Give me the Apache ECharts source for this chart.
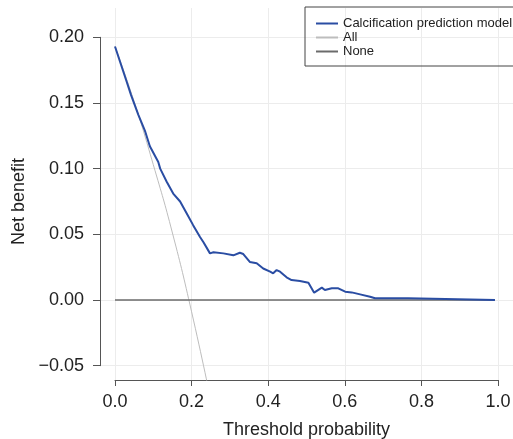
<!DOCTYPE html>
<html>
<head>
<meta charset="utf-8">
<script src="https://cdn.jsdelivr.net/npm/echarts@6/dist/echarts.min.js"></script>
<style>
html, body { margin: 0; padding: 0; background: #fff; }
#chart { width: 513px; height: 439px; }
</style>
</head>
<body>
<div id="chart"></div>
<script>
// decision curve values
var modelThreshold = [0, 0.029, 0.042, 0.061, 0.078, 0.091, 0.113, 0.118, 0.135, 0.152,
    0.170, 0.187, 0.204, 0.222, 0.231, 0.248, 0.257, 0.283, 0.309, 0.326,
    0.335, 0.352, 0.370, 0.387, 0.405, 0.413, 0.422, 0.431, 0.448, 0.461,
    0.483, 0.505, 0.520, 0.540, 0.548, 0.566, 0.583, 0.601, 0.618, 0.640,
    0.666, 0.679, 0.718, 0.765, 0.770, 0.992];
var modelBenefit = [0.193, 0.1675, 0.156, 0.141, 0.129, 0.117, 0.105, 0.100, 0.090, 0.081,
    0.075, 0.066, 0.057, 0.048, 0.044, 0.0355, 0.0363, 0.0355, 0.034, 0.036,
    0.035, 0.029, 0.028, 0.024, 0.0216, 0.0203, 0.0228, 0.0216, 0.0173, 0.0152,
    0.0145, 0.0132, 0.0056, 0.0094, 0.0076, 0.0089, 0.0089, 0.0063, 0.0058, 0.0043,
    0.0025, 0.0013, 0.0013, 0.0013, 0, 0];
var allThreshold = [0, 0.05, 0.1, 0.15, 0.2, 0.25];
var allBenefit = [0.193, 0.151, 0.103, 0.051, -0.009, -0.076];
var noneThreshold = [0, 0.992];
var noneBenefit = [0, 0];
var xTicks = [0, 1, 0.2];        // min, max, step
var yTicks = [-0.05, 0.2, 0.05];

function pairs(xs, ys) {
    return xs.map(function (x, i) { return [x, ys[i]]; });
}

var font = '"Liberation Sans", Arial, Helvetica, sans-serif';
var chart = echarts.init(document.getElementById('chart'));
var option = {
    animation: false,
    backgroundColor: '#fff',
    grid: [
        // data panel + x axis
        { left: 115, right: 15, top: 8, bottom: 59, outerBoundsMode: 'none', containLabel: false },
        // y axis only
        { left: 100, right: 0, top: 37.3, bottom: 73.3, outerBoundsMode: 'none', containLabel: false }
    ],
    legend: {
        data: ['Calcification prediction model', 'All', 'None'],
        orient: 'vertical',
        left: 305,
        top: 7,
        itemWidth: 22,
        itemHeight: 14,
        itemGap: 1,
        padding: [10, 16, 8, 10],
        borderColor: '#444',
        borderWidth: 1,
        itemStyle: { opacity: 0 },
        textStyle: { fontFamily: font, fontSize: 13, color: '#222' }
    },
    xAxis: [
        {
            gridIndex: 0, type: 'value',
            min: xTicks[0], max: xTicks[1], interval: xTicks[2],
            name: 'Threshold probability', nameLocation: 'middle', nameGap: 41,
            nameTextStyle: { fontFamily: font, fontSize: 18, color: '#222' },
            axisLine: { onZero: false, lineStyle: { color: '#555', width: 1 } },
            axisTick: { length: 6, lineStyle: { color: '#555' } },
            axisLabel: { margin: 13, fontFamily: font, fontSize: 18, color: '#222',
                formatter: function (v) { return v.toFixed(1); } },
            splitLine: { show: true, lineStyle: { color: '#ececec', width: 1 } }
        },
        { gridIndex: 1, type: 'value', show: false, min: 0, max: 1 }
    ],
    yAxis: [
        { gridIndex: 0, type: 'value', show: false, min: -0.0609, max: 0.2223 },
        {
            gridIndex: 1, type: 'value',
            min: yTicks[0], max: yTicks[1], interval: yTicks[2],
            name: 'Net benefit', nameLocation: 'middle', nameGap: 66,
            nameTextStyle: { fontFamily: font, fontSize: 18, color: '#222' },
            axisLine: { show: true, onZero: false, lineStyle: { color: '#555', width: 1 } },
            axisTick: { show: true, length: 7, lineStyle: { color: '#555' } },
            axisLabel: { margin: 16, fontFamily: font, fontSize: 18, color: '#222',
                formatter: function (v) {
                    var s = Math.abs(v).toFixed(2);
                    return v < -1e-9 ? '\u2212' + s : s;
                } },
            splitLine: { show: true, lineStyle: { color: '#ececec', width: 1 } }
        }
    ],
    series: [
        {
            name: 'None', type: 'line', xAxisIndex: 0, yAxisIndex: 0,
            data: pairs(noneThreshold, noneBenefit),
            symbol: 'none', lineStyle: { color: '#6b6b6b', width: 1.5 },
            itemStyle: { color: '#6b6b6b' }, z: 3
        },
        {
            name: 'All', type: 'line', xAxisIndex: 0, yAxisIndex: 0,
            data: pairs(allThreshold, allBenefit), smooth: true,
            symbol: 'none', clip: true, lineStyle: { color: '#bdbdbd', width: 1 },
            itemStyle: { color: '#bdbdbd' }, z: 2
        },
        {
            name: 'Calcification prediction model', type: 'line', xAxisIndex: 0, yAxisIndex: 0,
            data: pairs(modelThreshold, modelBenefit),
            symbol: 'none', lineStyle: { color: '#2a4da3', width: 2 },
            itemStyle: { color: '#2a4da3' }, z: 4
        }
    ]
};
chart.setOption(option);
</script>
</body>
</html>
